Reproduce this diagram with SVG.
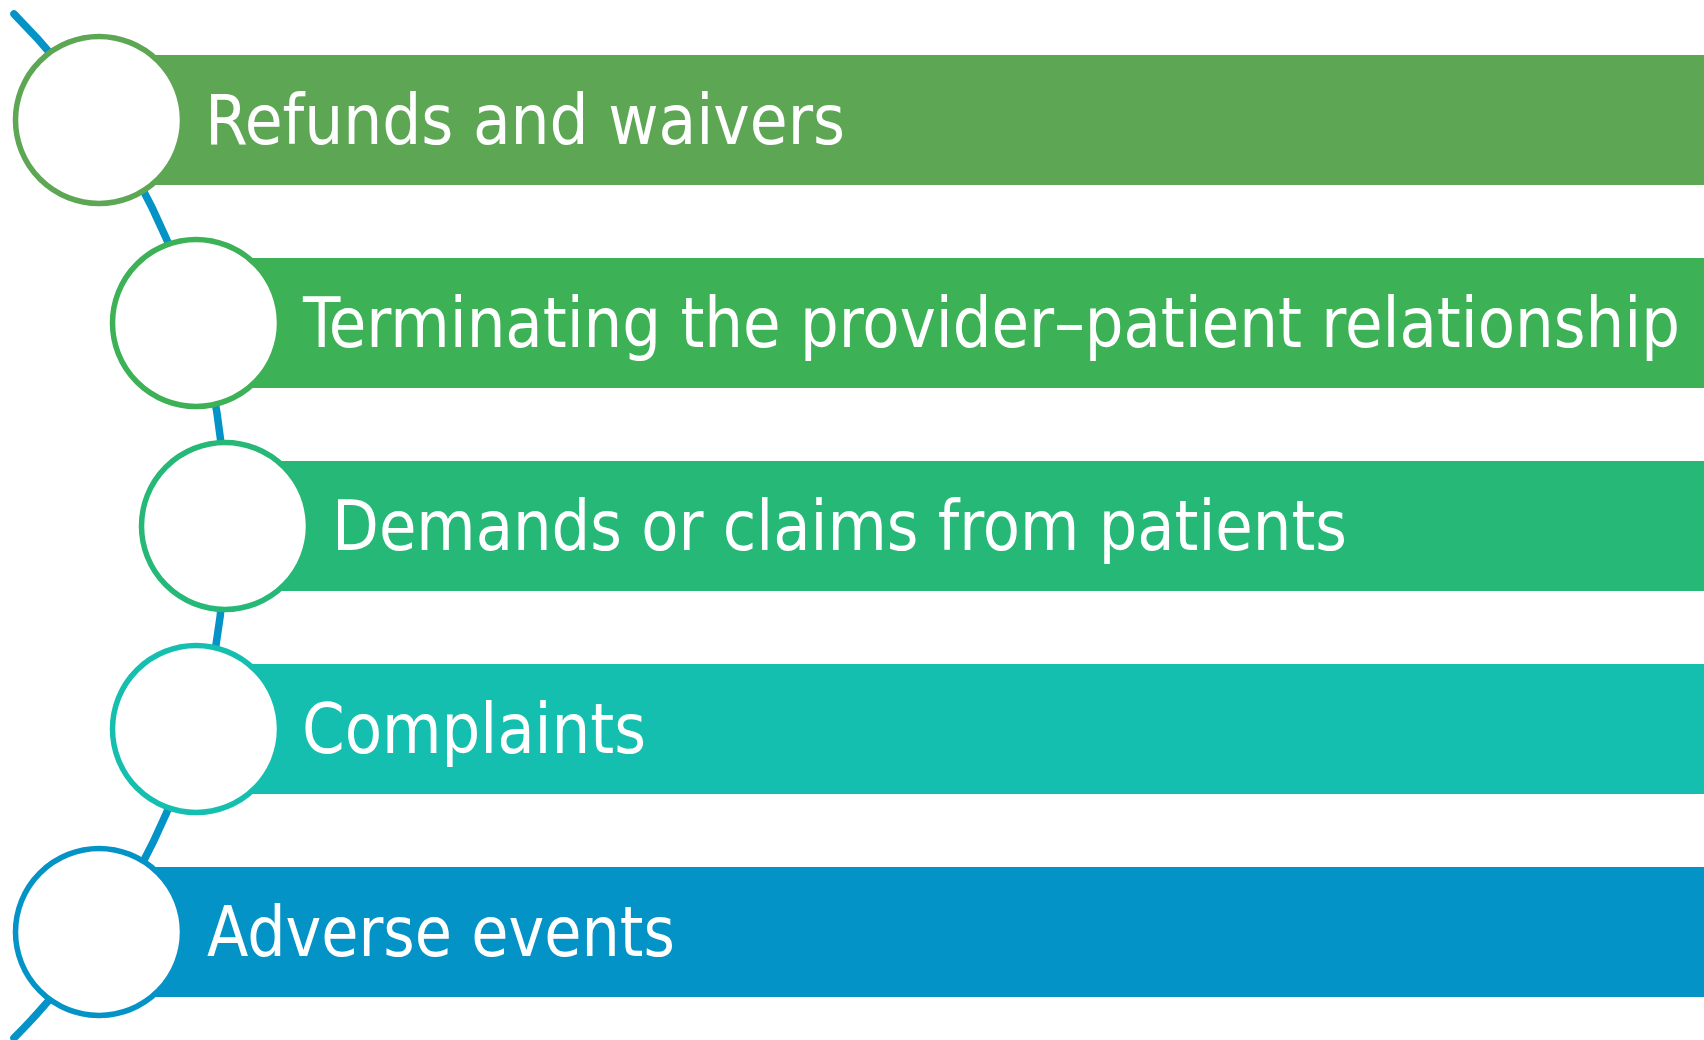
<svg xmlns="http://www.w3.org/2000/svg" width="1704" height="1040" viewBox="0 0 1704 1040">
  <style>
    .label { font-family: "DejaVu Sans Condensed", "DejaVu Sans", Verdana, sans-serif; font-stretch: condensed; font-size: 70px; fill: #ffffff; }
    .ring { fill: #ffffff; stroke-width: 5.5; }
    .spine { fill: none; stroke: #0393C6; stroke-width: 7.5; stroke-linecap: round; }
  </style>
  <rect width="1704" height="1040" fill="#ffffff"/>

  <!-- curved spine linking the circles -->
  <g id="connectors">
    <path class="spine" d="M 14 14 A 725 725 0 0 1 14 1038"/>
  </g>

  <g id="item1">
    <rect x="99" y="55" width="1605" height="130" fill="#5DA754"/>
    <circle class="ring" cx="99" cy="120" r="83.5" stroke="#5DA754"/>
    <text class="label" x="205" y="144" textLength="640" lengthAdjust="spacingAndGlyphs">Refunds and waivers</text>
  </g>

  <g id="item2">
    <rect x="196" y="258" width="1508" height="130" fill="#3DB156"/>
    <circle class="ring" cx="196" cy="323" r="83.5" stroke="#3DB156"/>
    <text class="label" x="303" y="347" textLength="1377" lengthAdjust="spacingAndGlyphs">Terminating the provider–patient relationship</text>
  </g>

  <g id="item3">
    <rect x="225" y="461" width="1479" height="130" fill="#26B877"/>
    <circle class="ring" cx="225" cy="526" r="83.5" stroke="#26B877"/>
    <text class="label" x="332" y="550" textLength="1015" lengthAdjust="spacingAndGlyphs">Demands or claims from patients</text>
  </g>

  <g id="item4">
    <rect x="196" y="664" width="1508" height="130" fill="#15BFAF"/>
    <circle class="ring" cx="196" cy="729" r="83.5" stroke="#15BFAF"/>
    <text class="label" x="302" y="753" textLength="344" lengthAdjust="spacingAndGlyphs">Complaints</text>
  </g>

  <g id="item5">
    <rect x="99" y="867" width="1605" height="130" fill="#0393C6"/>
    <circle class="ring" cx="99" cy="932" r="83.5" stroke="#0393C6"/>
    <text class="label" x="207" y="956" textLength="468" lengthAdjust="spacingAndGlyphs">Adverse events</text>
  </g>
</svg>
